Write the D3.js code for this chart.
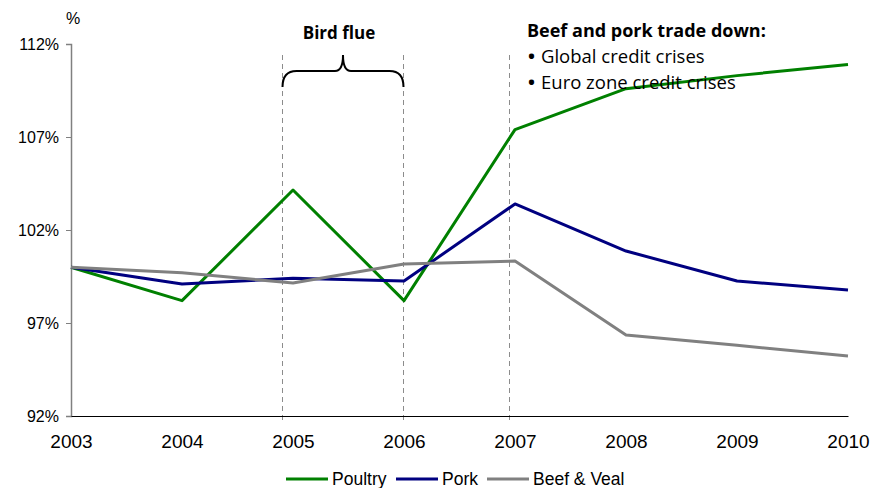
<!DOCTYPE html>
<html>
<head>
<meta charset="utf-8">
<script src="https://cdn.jsdelivr.net/npm/d3@7"></script>
<style>
  body { margin: 0; background: #fff; }
  svg text { font-family: "Liberation Sans", Arial, sans-serif; fill: #000; }
  .note text, text.note { font-family: "Open Sans", "Lato", sans-serif; }
</style>
</head>
<body>
<svg id="chart" width="877" height="488"></svg>
<script>
// Data
const years = [2003, 2004, 2005, 2006, 2007, 2008, 2009, 2010];
const poultry = [100, 98.2, 104.15, 98.2, 107.4, 109.6, 110.3, 110.9];
const pork = [100, 99.1, 99.4, 99.26, 103.4, 100.87, 99.26, 98.77];
const beefVeal = [100, 99.7, 99.15, 100.17, 100.33, 96.35, 95.8, 95.23];
const yTicks = [92, 97, 102, 107, 112];
const seriesNames = ['Poultry', 'Pork', 'Beef & Veal'];
const seriesColors = ['#008000', '#000080', '#808080'];
const bullets = ['Global credit crises', 'Euro zone credit crises'];

const svg = d3.select('#chart');

const x = d3.scaleLinear().domain([2003, 2010]).range([71, 848]);
const y = d3.scaleLinear().domain([92, 112]).range([416, 44]);

// Annotation dashed lines (placed in year units)
const markers = [2004.9, 2005.99, 2006.95];
svg.append('g').selectAll('line')
    .data(markers)
    .enter().append('line')
    .attr('x1', d => Math.round(x(d)) + 0.5)
    .attr('x2', d => Math.round(x(d)) + 0.5)
    .attr('y1', 55)
    .attr('y2', 424)
    .attr('stroke', '#8c8c8c')
    .attr('stroke-width', 1)
    .attr('stroke-dasharray', '5,4');

// Y axis
const yAxis = svg.append('g')
    .attr('transform', 'translate(71,0)')
    .call(d3.axisLeft(y).tickValues(yTicks).tickSize(5).tickPadding(7).tickFormat(d => d + '%'));
yAxis.select('.domain').attr('stroke', '#808080').attr('stroke-width', 1.5);
yAxis.selectAll('.tick line').attr('stroke', '#808080');
yAxis.selectAll('text').attr('font-size', 16).style('font-size', '16px');

// X axis
const xAxis = svg.append('g')
    .attr('transform', 'translate(0,416)')
    .call(d3.axisBottom(x).tickValues(years).tickSize(0).tickPadding(19).tickFormat(d3.format('d')));
xAxis.select('.domain').attr('stroke', '#000').attr('stroke-width', 1.2);
xAxis.selectAll('text').attr('font-size', 19).style('font-size', '19px');

svg.append('text')
    .attr('x', 73).attr('y', 24)
    .attr('text-anchor', 'middle')
    .style('font-size', '16px')
    .text('%');

// Lines
const line = d3.line()
    .x((d, i) => x(years[i]))
    .y(d => y(d));

[poultry, pork, beefVeal].forEach((s, i) => {
    svg.append('path')
        .datum(s)
        .attr('fill', 'none')
        .attr('stroke', seriesColors[i])
        .attr('stroke-width', 3)
        .attr('stroke-linejoin', 'round')
        .attr('d', line);
});

// Bird flue bracket
const bx1 = Math.round(x(markers[0])) + 0.5;
const bx2 = Math.round(x(markers[1])) + 0.5;
const bm = (bx1 + bx2) / 2;
svg.append('path')
    .attr('fill', 'none')
    .attr('stroke', '#000')
    .attr('stroke-width', 2)
    .attr('d', `M${bx1},87 Q${bx1},71 ${bx1 + 14},71 L${bm - 8},71 Q${bm},71 ${bm},55 Q${bm},71 ${bm + 8},71 L${bx2 - 14},71 Q${bx2},71 ${bx2},87`);

svg.append('text')
    .attr('class', 'note')
    .attr('x', 339).attr('y', 39)
    .attr('text-anchor', 'middle')
    .style('font-size', '17px')
    .style('font-weight', 'bold')
    .text('Bird flue');

// Trade-down note
const note = svg.append('g').attr('class', 'note');
note.append('text')
    .attr('x', 527).attr('y', 37)
    .style('font-size', '18px')
    .style('font-weight', 'bold')
    .text('Beef and pork trade down:');
bullets.forEach((t, i) => {
    const tx = note.append('text')
        .attr('y', 63 + i * 26)
        .style('font-size', '18.5px');
    tx.append('tspan').attr('x', 528).style('font-weight', 'bold').text('•');
    tx.append('tspan').attr('x', 541).text(t);
});

// Legend
const legendX = [286, 396, 487];
const legend = svg.append('g');
seriesNames.forEach((name, i) => {
    legend.append('line')
        .attr('x1', legendX[i]).attr('x2', legendX[i] + 42)
        .attr('y1', 479).attr('y2', 479)
        .attr('stroke', seriesColors[i])
        .attr('stroke-width', 3);
    legend.append('text')
        .attr('x', legendX[i] + 46).attr('y', 485)
        .style('font-size', '17.5px')
        .text(name);
});
</script>
</body>
</html>
